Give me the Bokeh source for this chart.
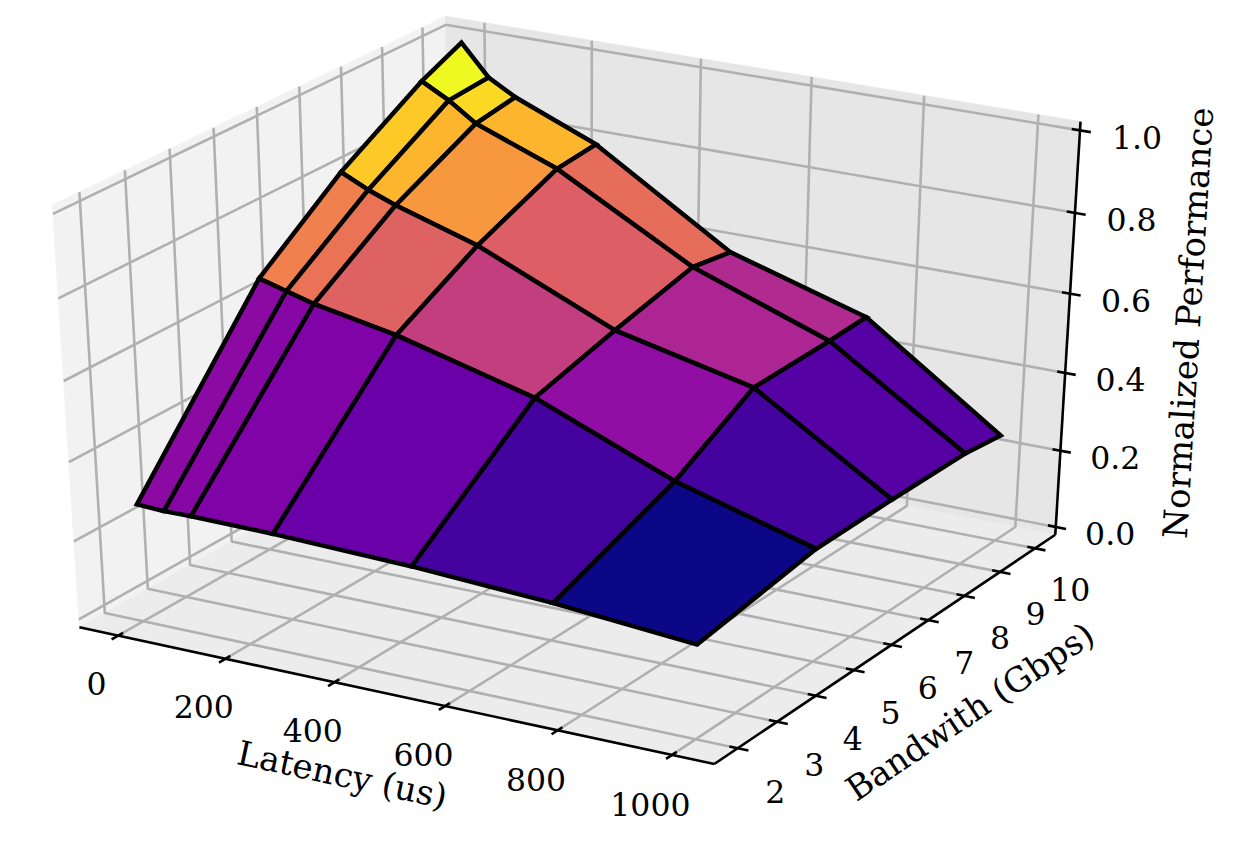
import numpy as np
from bokeh.plotting import figure
from bokeh.models import Range1d, ColumnDataSource
from bokeh.embed import file_html
from bokeh.resources import INLINE
from bokeh.core.properties import value
from bokeh.palettes import Plasma256

# ---------------- data ----------------
latency = [0, 50, 100, 250, 500, 750, 1000]        # us   (x)
bandwidth = [2, 5, 7, 9, 10]                         # Gbps (y)

# normalized performance, one list per bandwidth, values along latency
perf_bw2 = [0.279, 0.276, 0.277, 0.275, 0.265, 0.246, 0.217]
perf_bw5 = [0.672, 0.653, 0.634, 0.595, 0.505, 0.365, 0.266]
perf_bw7 = [0.829, 0.797, 0.771, 0.708, 0.560, 0.482, 0.268]
perf_bw9 = [0.953, 0.917, 0.871, 0.794, 0.609, 0.486, 0.266]
perf_bw10 = [1.000, 0.925, 0.887, 0.804, 0.593, 0.491, 0.254]
performance = [perf_bw2, perf_bw5, perf_bw7, perf_bw9, perf_bw10]

lat_ticks = [0, 200, 400, 600, 800, 1000]
lat_tick_labels = ["0", "200", "400", "600", "800", "1000"]
bw_ticks = [2, 3, 4, 5, 6, 7, 8, 9, 10]
bw_tick_labels = ["2", "3", "4", "5", "6", "7", "8", "9", "10"]
perf_ticks = [0.0, 0.2, 0.4, 0.6, 0.8, 1.0]
perf_tick_labels = ["0.0", "0.2", "0.4", "0.6", "0.8", "1.0"]

x_title = "Latency (us)"
y_title = "Bandwith (Gbps)"
z_title = "Normalized Performance"

# ---------------- style / layout ----------------
FONT = "DejaVu Serif"
TICK_FONT_SIZE = "31.5px"
TITLE_FONT_SIZE = "34px"
PANE_X = "#f2f2f2"
PANE_Y = "#e6e6e6"
PANE_Z = "#ececec"
GRID_COLOR = "#b0b0b0"
GRID_W = 2.6
AXIS_W = 2.6
EDGE_W = 4.5

W, H = 1228, 830
ORIGIN = 0                            # page position of the canvas

# view (matplotlib-like default 3-D view with perspective)
ELEV, AZIM, DIST = 30.0, -60.0, 10.0
CENTER_X, CENTER_Y = 574.7, 376.4     # where the box centre lands (page px)
SCALE_X, SCALE_Y = 703.5, 462.7       # px per unit of the normalised cube

TICK_OUT, TICK_IN = 0.017, 0.013      # tick mark lengths (cube units)
TICK_LABEL_OFF = 0.06                 # tick label distance (cube units)
TITLE_OFF = 0.13                      # axis title distance (cube units)


def with_margin(vals, frac=0.05):
    lo, hi = float(min(vals)), float(max(vals))
    d = (hi - lo) * frac
    return lo - d, hi + d


xlim = with_margin(latency)
ylim = with_margin(bandwidth)
zlim = (0.0, 1.0)
HB = 0.5 + 1.0 / 48.0                 # half size of the drawn box

el, az = np.radians(ELEV), np.radians(AZIM)
N = np.array([np.cos(az) * np.cos(el), np.sin(az) * np.cos(el), np.sin(el)])
U = np.cross([0.0, 0.0, 1.0], N)
U /= np.linalg.norm(U)
V = np.cross(N, U)


def to_q(x, y, z):
    x, y, z = (np.asarray(a, dtype=float) for a in (x, y, z))
    return ((x - xlim[0]) / (xlim[1] - xlim[0]) - 0.5,
            (y - ylim[0]) / (ylim[1] - ylim[0]) - 0.5,
            (z - zlim[0]) / (zlim[1] - zlim[0]) - 0.5)


def proj(qx, qy, qz):
    qx, qy, qz = (np.asarray(a, dtype=float) for a in (qx, qy, qz))
    up = U[0] * qx + U[1] * qy + U[2] * qz
    vp = V[0] * qx + V[1] * qy + V[2] * qz
    depth = N[0] * qx + N[1] * qy + N[2] * qz
    w = DIST - depth
    return CENTER_X + SCALE_X * DIST * up / w, CENTER_Y - SCALE_Y * DIST * vp / w, depth


def poly(points):
    arr = np.array(points, dtype=float)
    sx, sy, _ = proj(arr[:, 0], arr[:, 1], arr[:, 2])
    return list(sx), list(sy)


def screen_angle(p1, p2):
    x1, y1, _ = proj(*p1)
    x2, y2, _ = proj(*p2)
    ang = np.degrees(np.arctan2(-(float(y2) - float(y1)), float(x2) - float(x1)))
    ang = (ang + 180.0) % 180.0
    if ang > 90.0:
        ang -= 180.0
    return float(np.radians(ang))


p = figure(width=W, height=H,
           x_range=Range1d(ORIGIN, ORIGIN + W),
           y_range=Range1d(ORIGIN + H, ORIGIN),
           x_axis_type=None, y_axis_type=None,
           output_backend="svg", toolbar_location=None,
           min_border=0, outline_line_color=None,
           background_fill_color="white", border_fill_color="white")

# ---------------- panes ----------------
pane_x = poly([(-HB, -HB, -HB), (-HB, HB, -HB), (-HB, HB, HB), (-HB, -HB, HB)])
pane_y = poly([(-HB, HB, -HB), (HB, HB, -HB), (HB, HB, HB), (-HB, HB, HB)])
pane_z = poly([(-HB, -HB, -HB), (HB, -HB, -HB), (HB, HB, -HB), (-HB, HB, -HB)])
p.patches(xs=[pane_x[0], pane_y[0], pane_z[0]], ys=[pane_x[1], pane_y[1], pane_z[1]],
          fill_color=[PANE_X, PANE_Y, PANE_Z], line_color=[PANE_X, PANE_Y, PANE_Z],
          line_width=1)

# ---------------- grid lines ----------------
gx, gy = [], []
qlat, _, _ = to_q(lat_ticks, [ylim[0]] * len(lat_ticks), [0] * len(lat_ticks))
for qx in qlat:
    a, b = poly([(qx, -HB, -HB), (qx, HB, -HB), (qx, HB, HB)])
    gx.append(a); gy.append(b)
_, qbw, _ = to_q([xlim[0]] * len(bw_ticks), bw_ticks, [0] * len(bw_ticks))
for qy in qbw:
    a, b = poly([(-HB, qy, HB), (-HB, qy, -HB), (HB, qy, -HB)])
    gx.append(a); gy.append(b)
_, _, qperf = to_q([xlim[0]] * len(perf_ticks), [ylim[0]] * len(perf_ticks), perf_ticks)
for qz in qperf:
    a, b = poly([(HB, HB, qz), (-HB, HB, qz), (-HB, -HB, qz)])
    gx.append(a); gy.append(b)
p.multi_line(xs=gx, ys=gy, line_color=GRID_COLOR, line_width=GRID_W)

# ---------------- axis lines and tick marks ----------------
ax_x, ax_y = [], []
for seg in ([(-HB, -HB, -HB), (HB, -HB, -HB)],
            [(HB, -HB, -HB), (HB, HB, -HB)],
            [(HB, HB, -HB), (HB, HB, HB)]):
    a, b = poly(seg)
    ax_x.append(a); ax_y.append(b)
for qx in qlat:
    a, b = poly([(qx, -HB - TICK_OUT, -HB), (qx, -HB + TICK_IN, -HB)])
    ax_x.append(a); ax_y.append(b)
for qy in qbw:
    a, b = poly([(HB + TICK_OUT, qy, -HB), (HB - TICK_IN, qy, -HB)])
    ax_x.append(a); ax_y.append(b)
for qz in qperf:
    a, b = poly([(HB + TICK_OUT, HB, qz), (HB - TICK_IN, HB, qz)])
    ax_x.append(a); ax_y.append(b)
p.multi_line(xs=ax_x, ys=ax_y, line_color="black", line_width=AXIS_W)

# ---------------- tick labels ----------------
L = TICK_LABEL_OFF
tx, ty, tt = [], [], []
sx, sy, _ = proj(qlat, np.full(len(qlat), -HB - L), np.full(len(qlat), -HB - L))
tx += list(sx); ty += list(sy); tt += lat_tick_labels
sx, sy, _ = proj(np.full(len(qbw), HB + L), qbw, np.full(len(qbw), -HB - L))
tx += list(sx); ty += list(sy); tt += bw_tick_labels
sx, sy, _ = proj(np.full(len(qperf), HB + L), np.full(len(qperf), HB + L), qperf)
tx += list(sx); ty += list(sy); tt += perf_tick_labels
p.text(x=tx, y=ty, text=tt, text_font=value(FONT), text_font_size=TICK_FONT_SIZE,
       text_align="center", text_baseline="top", text_color="black")

# ---------------- axis titles ----------------
T = TITLE_OFF
t_pos = [(0.0, -HB - T, -HB - T), (HB + T, 0.0, -HB - T), (HB + T, HB + T, 0.0)]
t_ang = [screen_angle((-HB, -HB, -HB), (HB, -HB, -HB)),
         screen_angle((HB, -HB, -HB), (HB, HB, -HB)),
         screen_angle((HB, HB, -HB), (HB, HB, HB))]
tpx, tpy = [], []
for pos in t_pos:
    a, b, _ = proj(*pos)
    tpx.append(float(a)); tpy.append(float(b))
p.text(x=tpx, y=tpy, text=[x_title, y_title, z_title], angle=t_ang,
       text_font=value(FONT), text_font_size=TITLE_FONT_SIZE,
       text_align="center", text_baseline="middle", text_color="black")

# ---------------- surface ----------------
Z = np.array(performance, dtype=float)              # shape (n_bw, n_lat)
LAT, BW = np.meshgrid(latency, bandwidth)
QX, QY, QZ = to_q(LAT, BW, Z)
SXg, SYg, DEP = proj(QX, QY, QZ)

quads = []
for j in range(len(bandwidth) - 1):
    for i in range(len(latency) - 1):
        idx = [(j, i), (j, i + 1), (j + 1, i + 1), (j + 1, i)]
        xs = [float(SXg[a, b]) for a, b in idx]
        ys = [float(SYg[a, b]) for a, b in idx]
        dep = float(np.mean([DEP[a, b] for a, b in idx]))
        zavg = float(np.mean([Z[a, b] for a, b in idx]))
        quads.append((dep, xs, ys, zavg))

zs = np.array([q[3] for q in quads])
zmin_c, zmax_c = zs.min(), zs.max()
quads.sort(key=lambda q: q[0])                      # far first
colors = []
for q in quads:
    t = (q[3] - zmin_c) / (zmax_c - zmin_c)
    colors.append(Plasma256[min(int(t * 256), 255)])

src = ColumnDataSource(dict(xs=[q[1] for q in quads], ys=[q[2] for q in quads], c=colors))
p.patches(xs="xs", ys="ys", fill_color="c", line_color="black",
          line_width=EDGE_W, line_join="miter", source=src)

open("out.html", "w").write(file_html(p, INLINE))
